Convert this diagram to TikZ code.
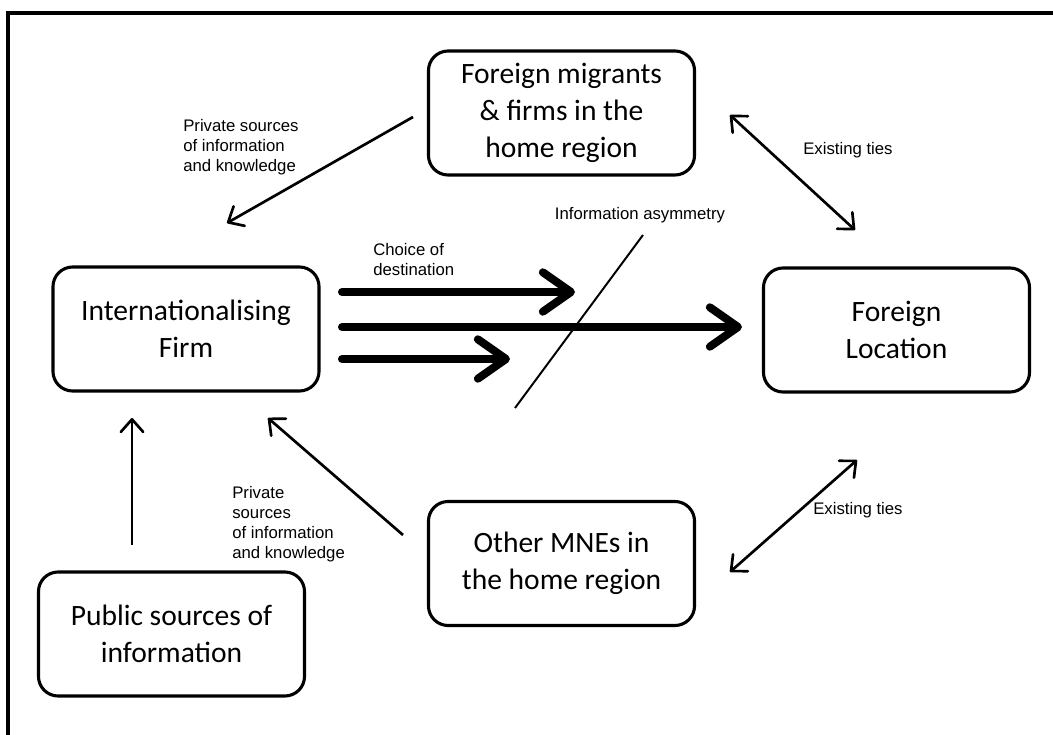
\documentclass[tikz,border=0pt]{standalone}
\usepackage{fontspec}
\setmainfont{Carlito}
\newfontfamily\labelfont{Liberation Sans}
\usetikzlibrary{arrows.meta}

\begin{document}
\begin{tikzpicture}[x=0.025cm,y=-0.025cm,
	box/.style={draw, line width=2.2pt, rounded corners=14pt, minimum width=6.65cm, minimum height=3.1cm, align=center, font=\fontsize{21}{26.2}\selectfont},
	lbl/.style={align=left, inner sep=0pt, font=\labelfont\fontsize{11.9}{14.2}\selectfont},
	link/.style={line width=1.9pt, -{Straight Barb[length=9pt,width=16pt,round]}},
	both/.style={line width=1.9pt, {Straight Barb[length=9pt,width=16pt,round]}-{Straight Barb[length=9pt,width=16pt,round]}},
	choice/.style={line width=5.7pt, line cap=round, -{Straight Barb[length=20pt,width=28pt,round]}}]
			\useasboundingbox (0,0) rectangle (1053,735);
			\draw[line width=2.5pt] (8,760) -- (8,13) -- (1070,13);

			\node[box] (migrants) at (561.5,113) {Foreign migrants\\\& firms in the\\home region};
			\node[box] (firm) at (186,329) {Internationalising\\Firm};
			\node[box] (location) at (896.5,330) {Foreign\\Location};
			\node[box] (mnes) at (561.5,563.5) {Other MNEs in\\the home region};
			\node[box] (public) at (171.5,634) {Public sources of\\information};

			\node[lbl, anchor=west] (priv1) at (183,147) {Private sources\\of information\\and knowledge};
			\node[lbl, anchor=west] (priv2) at (232,524) {Private\\sources\\of information\\and knowledge};
			\node[lbl, anchor=west] (ties1) at (803,150) {Existing ties};
			\node[lbl, anchor=west] (ties2) at (813,510) {Existing ties};
			\node[lbl, anchor=west] (choice) at (373,260) {Choice of\\destination};
			\node[lbl] (asym) at (640,215) {Information asymmetry};

			\coordinate (m1) at (413,117);
			\coordinate (f1) at (227,223);
			\coordinate (m2) at (730,115);
			\coordinate (l1) at (855,230);
			\coordinate (o1) at (730,572);
			\coordinate (l2) at (857,460);
			\coordinate (o2) at (403,535);
			\coordinate (f2) at (268,418);
			\coordinate (p1) at (132,545);
			\coordinate (f3) at (132,418);
			\draw[link] (m1) -- (f1);
			\draw[both] (m2) -- (l1);
			\draw[both] (o1) -- (l2);
			\draw[link] (o2) -- (f2);
			\draw[link] (p1) -- (f3);

			\foreach \n/\y/\e in {a/292/575, b/327/742, c/359/510} {
				\coordinate (s\n) at (342,\y);
				\coordinate (t\n) at (\e,\y);
				\draw[choice] (s\n) -- (t\n);
			}
			\coordinate (a1) at (515,408);
			\coordinate (a2) at (643,235);
			\draw[line width=1.4pt] (a1) -- (a2);
\end{tikzpicture}
\end{document}
